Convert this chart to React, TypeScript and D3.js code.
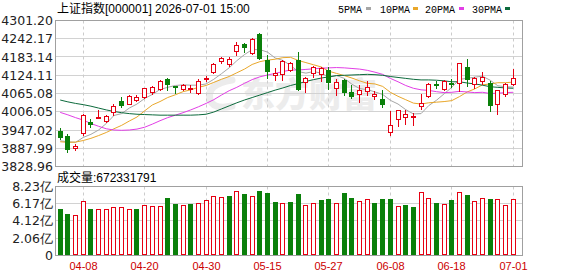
import React, { useEffect } from 'react';
import * as d3 from 'd3';

const dates = [
  '04-02','04-03','04-07','04-08','04-09','04-10','04-13','04-14','04-15','04-16',
  '04-17','04-20','04-21','04-22','04-23','04-24','04-27','04-28','04-29','04-30',
  '05-06','05-07','05-08','05-11','05-12','05-13','05-14','05-15','05-18','05-19',
  '05-20','05-21','05-22','05-25','05-26','05-27','05-28','05-29','06-01','06-02',
  '06-03','06-04','06-05','06-08','06-09','06-10','06-11','06-12','06-15','06-16',
  '06-17','06-18','06-22','06-23','06-24','06-25','06-26','06-29','06-30','07-01',
];
const open = [3944,3929,3889,3936,3972,3987,3975,4006,4041,4032, 4045,4054,4069,4079,4112,4088,4079,4079,4066,4112, 4135,4170,4161,4201,4225,4195,4257,4172,4125,4127, 4142,4174,4103,4131,4129,4140,4084,4110,4069,4065, 4073,4058,4047,3942,3983,3990,3988,4026,4056,4096, 4079,4099,4099,4152,4095,4107,4099,4030,4063,4095];
const high = [3953,3934,3902,3998,3983,4013,3994,4030,4054,4060, 4059,4084,4090,4110,4116,4090,4095,4092,4112,4121, 4165,4182,4183,4232,4227,4243,4262,4191,4146,4172, 4167,4199,4118,4154,4150,4152,4112,4112,4092,4092, 4105,4073,4077,4009,4013,4011,4001,4063,4099,4107, 4109,4112,4165,4176,4117,4135,4107,4077,4099,4144];
const low = [3917,3876,3883,3930,3957,3985,3972,3996,4022,4030, 4042,4052,4065,4076,4075,4068,4075,4070,4064,4107, 4133,4165,4154,4189,4199,4193,4178,4116,4109,4109, 4137,4076,4071,4120,4107,4079,4060,4060,4050,4037, 4060,4047,4022,3932,3960,3968,3964,4015,4053,4083, 4076,4086,4073,4088,4082,4097,4009,3998,4056,4093];
const close = [3923,3885,3895,3996,3967,3990,3993,4024,4027,4058, 4055,4082,4086,4107,4095,4085,4092,4082,4107,4115, 4159,4180,4178,4223,4214,4240,4180,4137,4131,4170, 4163,4079,4114,4152,4146,4101,4103,4069,4056,4075, 4086,4062,4030,3964,4011,3998,3991,4034,4097,4093, 4105,4096,4163,4112,4115,4120,4028,4075,4095,4114];
// volume in 亿 shares
const volume = [5.54,4.98,4.82,6.47,5.54,5.50,5.50,5.75,5.75,5.54, 5.54,6.03,5.90,5.90,6.83,6.18,6.03,6.18,6.27,6.63, 7.11,6.99,7.15,7.71,7.39,7.11,7.71,7.51,6.42,6.27, 6.39,7.35,6.06,6.27,6.63,6.75,6.27,7.47,6.87,6.51, 6.71,6.27,6.75,6.75,5.90,6.06,5.78,7.55,6.83,6.27, 6.15,6.63,7.55,7.23,6.51,6.83,6.75,6.75,6.03,6.72];

const ma5 = [3912,3909,3907,3923,3933,3947,3968,3994,4000,4018, 4031,4049,4062,4078,4085,4091,4093,4092,4092,4096, 4111,4129,4148,4171,4191,4207,4207,4199,4180,4172, 4156,4136,4131,4136,4131,4118,4123,4114,4095,4081, 4078,4070,4062,4043,4031,4013,3999,4000,4026,4043, 4064,4085,4111,4114,4118,4121,4108,4090,4087,4086];
const ma10 = [3909,3907,3908,3913,3920,3929,3939,3951,3962,3976, 3989,4009,4028,4039,4052,4061,4071,4077,4085,4091, 4101,4111,4120,4132,4144,4159,4168,4173,4176,4181, 4182,4172,4165,4158,4151,4137,4130,4123,4115,4106, 4098,4096,4088,4069,4056,4045,4034,4031,4035,4037, 4039,4042,4055,4070,4080,4093,4096,4100,4100,4102];
const ma20 = [4004,3996,3987,3979,3968,3959,3951,3947,3946,3947, 3950,3956,3966,3977,3987,3995,4003,4012,4022,4033, 4045,4060,4074,4085,4098,4110,4119,4125,4130,4136, 4141,4141,4143,4145,4147,4148,4149,4148,4146,4144, 4140,4134,4127,4114,4103,4091,4082,4077,4075,4071, 4068,4069,4072,4070,4068,4069,4065,4066,4068,4069];
const ma30 = [4044,4038,4033,4029,4024,4018,4012,4007,4003,4000, 3998,3997,3996,3995,3995,3995,3995,3995,3996,3998, 4005,4015,4025,4035,4044,4052,4060,4068,4076,4083, 4091,4097,4104,4110,4115,4119,4123,4124,4125,4126, 4127,4126,4124,4120,4117,4114,4111,4109,4109,4108, 4106,4103,4103,4099,4096,4092,4087,4085,4083,4082];

const priceTicks = [4301.20, 4242.17, 4183.14, 4124.11, 4065.08, 4006.05, 3947.02, 3887.99, 3828.96];
const volTicks = [8.23, 6.17, 4.12, 2.06, 0];
const volTickLabels = ['8.23亿', '6.17亿', '4.12亿', '2.06亿', '0'];
const dateTicks = ['04-08', '04-20', '04-30', '05-15', '05-27', '06-08', '06-18', '07-01'];
const maNames = ['5PMA', '10PMA', '20PMA', '30PMA'];
const maColors = ['#a6a6a6', '#e9a72a', '#e23ee6', '#0c6a3c'];
const titleText = '上证指数[000001] 2026-07-01 15:00';
const lastVolume = '672331791';

const RED = '#e60012';
const GREEN = '#0a800a';

export default function App() {
  useEffect(() => {
    document.body.style.margin = '0';
  }, []);

  const W = 578, H = 276;
  const left = 55.5, right = 522.5;
  const pTop = 20.5, pBottom = 166.5;
  const vTop = 186.5, vBottom = 255.5;

  const x = d3.scaleLinear().domain([0, 59]).range([60.2, 513.2]);
  const y = d3.scaleLinear().domain([3828.96, 4301.20]).range([pBottom, pTop]);
  const yv = d3.scaleLinear().domain([0, 8.23]).range([vBottom, vTop]);

  const cxOf = (i: number) => Math.floor(x(i)) + 0.5;
  const crisp = (v: number) => Math.round(v - 0.5) + 0.5;

  const mas = [ma5, ma10, ma20, ma30];
  const line = (arr: number[]) =>
    d3.line<number>().x((_, i) => x(i)).y((d) => y(d))(arr) || '';

  const axisFont = '"DejaVu Sans", Verdana, sans-serif';
  const sansFont = '"Liberation Sans", Arial, "Noto Sans CJK SC", sans-serif';

  // legend positions
  const legendX = [338, 380, 425, 472];
  const swatchX = [366, 413, 459, 505];

  return (
    <svg width={W} height={H} style={{ position: 'absolute', left: 0, top: 0, background: '#fff' }}
      xmlns="http://www.w3.org/2000/svg">
      <rect x={0} y={0} width={W} height={H} fill="#fff" />

      {/* title */}
      <text x={57} y={13} fontFamily={sansFont} fontSize={12} fill="#000">{titleText}</text>

      {/* legend */}
      {maNames.map((n, k) => (
        <g key={n}>
          <text x={legendX[k]} y={12.5} fontFamily='"Liberation Mono", monospace' fontSize={10} fill="#000">{n}</text>
          <rect x={swatchX[k]} y={7} width={5} height={3} fill={maColors[k]} />
        </g>
      ))}

      {/* watermark */}
      <g fill="none" stroke="#ececec" strokeWidth={7} strokeLinecap="round">
        <path d="M 232 80 Q 206 84 210 100 Q 214 110 232 106" />
      </g>
      <text x={241} y={107} fontFamily='"Noto Sans CJK SC", sans-serif' fontWeight={900} fontSize={34}
        fill="#ececec">东方财富</text>

      {/* price grid */}
      {priceTicks.map((t) => (
        <line key={t} x1={left} x2={right} y1={crisp(y(t))} y2={crisp(y(t))} stroke="#d2d2d2" strokeWidth={1} />
      ))}
      {volTicks.map((t) => (
        <line key={'v' + t} x1={left} x2={right} y1={crisp(yv(t))} y2={crisp(yv(t))} stroke="#d2d2d2" strokeWidth={1} />
      ))}
      {dateTicks.map((d) => {
        const i = dates.indexOf(d);
        const cx = cxOf(i);
        return (
          <g key={'g' + d}>
            <line x1={cx} x2={cx} y1={pTop} y2={pBottom} stroke="#cccccc" strokeDasharray="3,3" />
            <line x1={cx} x2={cx} y1={vTop} y2={vBottom} stroke="#cccccc" strokeDasharray="3,3" />
          </g>
        );
      })}

      {/* borders */}
      <rect x={left} y={pTop} width={right - left} height={pBottom - pTop} fill="none" stroke="#a0a0a0" />
      <rect x={left} y={vTop} width={right - left} height={vBottom - vTop} fill="none" stroke="#a0a0a0" />

      {/* price labels */}
      {priceTicks.map((t) => (
        <text key={'pl' + t} x={53} y={y(t)} dy="0.36em" textAnchor="end" fontFamily={axisFont}
          fontSize={12.5} fill="#222">{t.toFixed(2)}</text>
      ))}
      {volTicks.map((t, k) => (
        <text key={'vl' + t} x={53} y={yv(t)} dy="0.36em" textAnchor="end" fontFamily={axisFont}
          fontSize={12.5} fill="#222">{volTickLabels[k]}</text>
      ))}

      {/* volume title */}
      <text x={57} y={182} fontFamily={sansFont} fontSize={12} fill="#000">成交量:{lastVolume}</text>

      {/* date labels */}
      {dateTicks.map((d) => (
        <text key={'dl' + d} x={cxOf(dates.indexOf(d))} y={270} textAnchor="middle" fontFamily={sansFont}
          fontSize={11} fill="#cc0000">{d}</text>
      ))}

      {/* MA lines */}
      {mas.map((arr, k) => (
        <path key={'ma' + k} d={line(arr)} fill="none" stroke={maColors[k]} strokeWidth={1} />
      ))}

      {/* candles */}
      {dates.map((d, i) => {
        const cx = cxOf(i);
        const up = close[i] >= open[i];
        const top = Math.round(y(Math.max(open[i], close[i])));
        const bot = Math.round(y(Math.min(open[i], close[i])));
        const yH = Math.round(y(high[i]));
        const yL = Math.round(y(low[i]));
        const col = up ? RED : GREEN;
        return (
          <g key={'c' + d}>
            <line x1={cx} x2={cx} y1={yH} y2={yL + 1} stroke={col} strokeWidth={1} />
            {up ? (
              <rect x={cx - 2} y={top + 0.5} width={4} height={Math.max(bot - top, 1)} fill="#fff" stroke={col} strokeWidth={1} />
            ) : (
              <rect x={cx - 2.5} y={top} width={5} height={Math.max(bot - top + 1, 2)} fill={col} />
            )}
          </g>
        );
      })}

      {/* volume bars */}
      {dates.map((d, i) => {
        const cx = cxOf(i);
        const up = i === 0 ? close[i] >= open[i] : close[i] >= close[i - 1];
        const top = Math.round(yv(volume[i]));
        const base = 255;
        return up ? (
          <rect key={'v' + d} x={cx - 2} y={top + 0.5} width={4} height={base - top - 1} fill="#fff" stroke={RED} strokeWidth={1} />
        ) : (
          <rect key={'v' + d} x={cx - 2.5} y={top} width={5} height={base - top} fill={GREEN} />
        );
      })}
    </svg>
  );
}
